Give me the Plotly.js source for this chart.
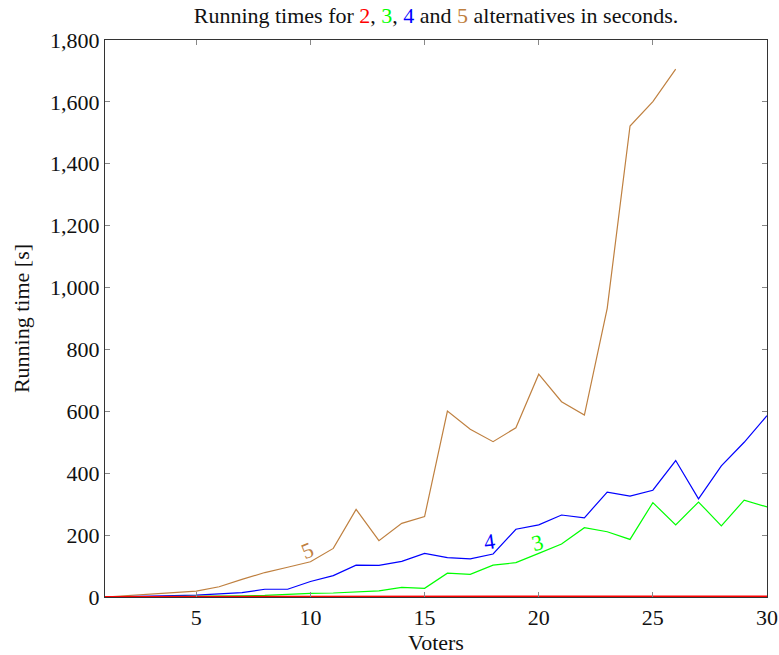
<!DOCTYPE html>
<html>
<head>
<meta charset="utf-8">
<script src="https://cdn.plot.ly/plotly-3.0.1.min.js"></script>
<style>body{margin:0;padding:0;background:#fff}#chart{width:779px;height:655px}</style>
</head>
<body>
<div id="chart"></div>
<script>
const voters = [1,2,3,4,5,6,7,8,9,10,11,12,13,14,15,16,17,18,19,20,21,22,23,24,25,26,27,28,29,30];
const votersFive = voters.slice(0, 26);
const timesTwo = [0,0,0,0,0.1,0.1,0.1,0.2,0.2,0.3,0.3,0.4,0.4,0.5,0.5,0.6,0.7,0.8,0.9,1,1,1.1,1.2,1.3,1.4,1.5,1.6,1.8,1.9,2];
const timesThree = [0,0.3,0.6,1,2,3,4,5,9,12,13,16,20,31,28,77,73,103,111,141,171,224,211,186,305,233,307,230,313,291];
const timesFour = [0,1,2,4,6,10,14,25,25,50,69,103,102,115,141,127,123,139,219,233,265,256,339,326,345,441,317,424,500,586];
const timesFive = [0,4,9,14,19,33,57,79,96,114,157,283,182,238,260,601,542,502,547,720,631,588,933,1522,1601,1706];
const yTicks = [0,200,400,600,800,1000,1200,1400,1600,1800];
const yTickText = ['0','200','400','600','800','1,000','1,200','1,400','1,600','1,800'];
const xTicks = [5,10,15,20,25,30];

const brown = '#bf8040';
const font = 'Liberation Serif, DejaVu Serif, serif';

const traces = [
  {x: votersFive, y: timesFive, mode: 'lines', line: {color: brown, width: 1.2}, name: '5'},
  {x: voters, y: timesFour, mode: 'lines', line: {color: '#0000ff', width: 1.2}, name: '4'},
  {x: voters, y: timesThree, mode: 'lines', line: {color: '#00ff00', width: 1.2}, name: '3'},
  {x: voters, y: timesTwo, mode: 'lines', line: {color: '#ff0000', width: 2}, name: '2'}
];

const axisCommon = {
  showgrid: false, zeroline: false, showline: true, linecolor: '#333', linewidth: 1.2,
  mirror: 'allticks', ticks: 'inside', ticklen: 5, tickwidth: 1, tickcolor: '#888',
  tickfont: {family: font, size: 22, color: '#111'}
};

const layout = {
  width: 779, height: 655,
  margin: {l: 105, r: 12, t: 40, b: 58},
  paper_bgcolor: '#fff', plot_bgcolor: '#fff',
  showlegend: false,
  font: {family: font, color: '#111'},
  title: {
    text: 'Running times for <span style="color:#ff0000">2</span>, <span style="color:#00ff00">3</span>, <span style="color:#0000ff">4</span> and <span style="color:' + brown + '">5</span> alternatives in seconds.',
    font: {family: font, size: 22, color: '#111'},
    x: 0.5, xref: 'paper', xanchor: 'center',
    y: 1 - 15/655, yref: 'container', yanchor: 'middle'
  },
  xaxis: Object.assign({}, axisCommon, {
    range: [1, 30], tickvals: xTicks, ticktext: xTicks.map(String),
    title: {text: 'Voters', font: {family: font, size: 22, color: '#111'}, standoff: 6}
  }),
  yaxis: Object.assign({}, axisCommon, {
    range: [0, 1800], tickvals: yTicks, ticktext: yTickText,
    title: {text: 'Running time [s]', font: {family: font, size: 22, color: '#111'}, standoff: 14}
  }),
  annotations: [
    {x: 9.86, y: 149, text: '5', showarrow: false, textangle: -22, font: {family: font, size: 22, color: brown}},
    {x: 17.84, y: 178, text: '4', showarrow: false, textangle: -8, font: {family: font, size: 22, color: '#0000ff'}},
    {x: 19.95, y: 175, text: '3', showarrow: false, textangle: -15, font: {family: font, size: 22, color: '#00ff00'}}
  ]
};

Plotly.newPlot('chart', traces, layout, {displayModeBar: false, staticPlot: true});
</script>
</body>
</html>
